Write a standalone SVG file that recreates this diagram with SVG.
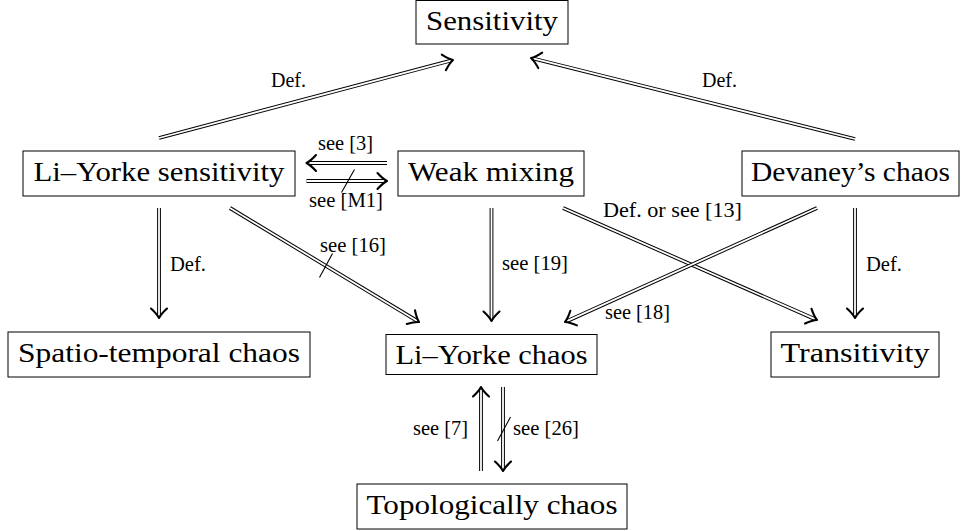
<svg xmlns="http://www.w3.org/2000/svg" width="961" height="531" viewBox="0 0 961 531">
<style>
.box{fill:#fff;stroke:#000;stroke-width:1}
.nt{font-size:28px;fill:#000;text-anchor:middle}
.lb{font-size:20px;fill:#000}
.o{stroke:#000;stroke-width:3.8;fill:none}
.i{stroke:#fff;stroke-width:1.8;fill:none}
.tip{fill:none;stroke:#000;stroke-width:2.1;stroke-linecap:round;stroke-linejoin:round}
.neg{stroke:#000;stroke-width:1.1}
</style>
<defs>
<path id="tip" class="tip" d="M-9.5,-8 Q-4,-2 0,0 Q-4,2 -9.5,8"/>
</defs>
<rect width="961" height="531" fill="#fff"/>
<g font-family="Liberation Serif, serif">
<g id="connectors">
  <g id="e-lys-sens">
    <line class="o" x1="159" y1="138" x2="451.07" y2="60.51"/><line class="i" x1="159" y1="138" x2="451.07" y2="60.51"/>
    <use href="#tip" transform="translate(453,60) rotate(-14.86)"/>
    <text class="lb" x="271" y="87" textLength="35" lengthAdjust="spacingAndGlyphs">Def.</text>
  </g>
  <g id="e-dev-sens">
    <line class="o" x1="855" y1="139" x2="532.94" y2="58.49"/><line class="i" x1="855" y1="139" x2="532.94" y2="58.49"/>
    <use href="#tip" transform="translate(531,58) rotate(-165.96)"/>
    <text class="lb" x="702" y="87" textLength="35" lengthAdjust="spacingAndGlyphs">Def.</text>
  </g>
  <g id="e-wm-lys">
    <line class="o" x1="387" y1="163" x2="308.5" y2="163"/><line class="i" x1="387" y1="163" x2="308.5" y2="163"/>
    <use href="#tip" transform="translate(306.5,163) rotate(180)"/>
    <text class="lb" x="318" y="150" textLength="55" lengthAdjust="spacingAndGlyphs">see [3]</text>
  </g>
  <g id="e-lys-wm">
    <line class="o" x1="306.5" y1="181" x2="385" y2="181"/><line class="i" x1="306.5" y1="181" x2="385" y2="181"/>
    <use href="#tip" transform="translate(387,181)"/>
    <line class="neg" x1="354.5" y1="169.5" x2="341.5" y2="192.5"/>
    <text class="lb" x="309" y="207" textLength="74" lengthAdjust="spacingAndGlyphs">see [M1]</text>
  </g>
  <g id="e-lys-stc">
    <line class="o" x1="159" y1="208" x2="159" y2="316"/><line class="i" x1="159" y1="208" x2="159" y2="316"/>
    <use href="#tip" transform="translate(159,318) rotate(90)"/>
    <text class="lb" x="170" y="271" textLength="36" lengthAdjust="spacingAndGlyphs">Def.</text>
  </g>
  <g id="e-lys-lyc">
    <line class="o" x1="230" y1="208" x2="417.29" y2="320.97"/><line class="i" x1="230" y1="208" x2="417.29" y2="320.97"/>
    <use href="#tip" transform="translate(419,322) rotate(31.1)"/>
    <line class="neg" x1="332.5" y1="253.5" x2="319.5" y2="277.5"/>
    <text class="lb" x="320" y="252" textLength="66" lengthAdjust="spacingAndGlyphs">see [16]</text>
  </g>
  <g id="e-wm-lyc">
    <line class="o" x1="491.5" y1="208" x2="491.5" y2="319"/><line class="i" x1="491.5" y1="208" x2="491.5" y2="319"/>
    <use href="#tip" transform="translate(491.5,321) rotate(90)"/>
    <text class="lb" x="502" y="270" textLength="66" lengthAdjust="spacingAndGlyphs">see [19]</text>
  </g>
  <g id="e-wm-trans">
    <line class="o" x1="563" y1="208" x2="815.17" y2="319.19"/><line class="i" x1="563" y1="208" x2="815.17" y2="319.19"/>
    <use href="#tip" transform="translate(817,320) rotate(23.79)"/>
    <text class="lb" x="603" y="217" textLength="139" lengthAdjust="spacingAndGlyphs">Def. or see [13]</text>
  </g>
  <g id="e-dev-lyc">
    <line class="o" x1="817" y1="208" x2="566.82" y2="321.18"/><line class="i" x1="817" y1="208" x2="566.82" y2="321.18"/>
    <use href="#tip" transform="translate(565,322) rotate(155.66)"/>
    <text class="lb" x="605" y="319" textLength="65" lengthAdjust="spacingAndGlyphs">see [18]</text>
  </g>
  <g id="e-dev-trans">
    <line class="o" x1="855" y1="208" x2="855" y2="316"/><line class="i" x1="855" y1="208" x2="855" y2="316"/>
    <use href="#tip" transform="translate(855,318) rotate(90)"/>
    <text class="lb" x="866" y="271" textLength="36" lengthAdjust="spacingAndGlyphs">Def.</text>
  </g>
  <g id="e-tc-lyc">
    <line class="o" x1="481" y1="471" x2="481" y2="389"/><line class="i" x1="481" y1="471" x2="481" y2="389"/>
    <use href="#tip" transform="translate(481,387) rotate(-90)"/>
    <text class="lb" x="413" y="435" textLength="55" lengthAdjust="spacingAndGlyphs">see [7]</text>
  </g>
  <g id="e-lyc-tc">
    <line class="o" x1="503" y1="387" x2="503" y2="469"/><line class="i" x1="503" y1="387" x2="503" y2="469"/>
    <use href="#tip" transform="translate(503,471) rotate(90)"/>
    <line class="neg" x1="510.5" y1="417" x2="497.5" y2="441"/>
    <text class="lb" x="513" y="435" textLength="66" lengthAdjust="spacingAndGlyphs">see [26]</text>
  </g>
</g>
<g id="n-sens"><rect class="box" x="416" y="0.5" width="152" height="43.5"/><text class="nt" x="492" y="29.5" textLength="132" lengthAdjust="spacingAndGlyphs">Sensitivity</text></g>
<g id="n-lys"><rect class="box" x="23" y="151" width="272" height="45"/><text class="nt" x="159" y="180.5" textLength="251" lengthAdjust="spacingAndGlyphs">Li–Yorke sensitivity</text></g>
<g id="n-wm"><rect class="box" x="398" y="151" width="186" height="45"/><text class="nt" x="491" y="180.5" textLength="166" lengthAdjust="spacingAndGlyphs">Weak mixing</text></g>
<g id="n-dev"><rect class="box" x="742" y="151" width="217" height="45"/><text class="nt" x="850.5" y="180.5" textLength="199" lengthAdjust="spacingAndGlyphs">Devaney’s chaos</text></g>
<g id="n-stc"><rect class="box" x="8" y="332" width="302" height="45"/><text class="nt" x="159" y="361.5" textLength="282" lengthAdjust="spacingAndGlyphs">Spatio-temporal chaos</text></g>
<g id="n-lyc"><rect class="box" x="386" y="334.5" width="211" height="40"/><text class="nt" x="491.5" y="364.3" textLength="192" lengthAdjust="spacingAndGlyphs">Li–Yorke chaos</text></g>
<g id="n-trans"><rect class="box" x="771" y="332" width="168" height="45"/><text class="nt" x="855" y="361.5" textLength="149" lengthAdjust="spacingAndGlyphs">Transitivity</text></g>
<g id="n-tc"><rect class="box" x="357" y="484" width="270" height="45"/><text class="nt" x="492" y="513.5" textLength="251" lengthAdjust="spacingAndGlyphs">Topologically chaos</text></g>
</g>
</svg>
